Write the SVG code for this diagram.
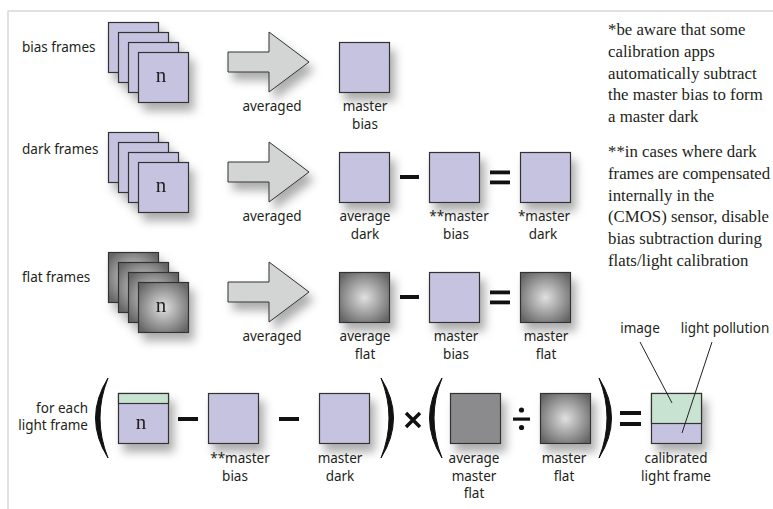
<svg xmlns="http://www.w3.org/2000/svg" width="773" height="509" viewBox="0 0 773 509">
<defs>
<filter id="sh" x="-30%" y="-30%" width="180%" height="180%"><feDropShadow dx="5" dy="8" stdDeviation="5" flood-color="#000" flood-opacity="0.32"/></filter>
<radialGradient id="fl" cx="0.5" cy="0.5" r="0.62"><stop offset="0" stop-color="#e0e0e0"/><stop offset="1" stop-color="#666"/></radialGradient>
</defs>
<style>
.lbl{font-family:"Noto Sans","Liberation Sans",sans-serif;font-size:13.5px;fill:#231f20}
.c{text-anchor:middle}
.r{text-anchor:end}
.note{font-family:"Liberation Serif",serif;font-size:16.8px;fill:#231f20}
.n{font-family:"Liberation Serif",serif;font-size:21px;fill:#231f20;text-anchor:middle}
.p{fill:#c6c3e1;stroke:#333;stroke-width:1.2}
.g{fill:#c9e3d2;stroke:#333;stroke-width:1.2}
.f{fill:url(#fl);stroke:#333;stroke-width:1.2}
.gr{fill:#8b8b8d;stroke:#333;stroke-width:1.2}
.arr{fill:#d3d5d5;stroke:#333;stroke-width:1}
.op{fill:#111}
.sh{filter:url(#sh)}
.par{fill:#111;stroke:#111;stroke-width:1;stroke-linejoin:round}
.ln{stroke:#222;stroke-width:1;fill:none}
</style>
<rect width="773" height="509" fill="#fff"/>
<path d="M8,509 V11 H773" fill="none" stroke="#d8d8d8" stroke-width="1.5"/>

<!-- row 1 -->
<g id="bias-frames">
<text class="lbl" x="22" y="52">bias frames</text>
<g class="sh">
<rect class="p" x="108.5" y="22.5" width="50" height="50"/>
<rect class="p" x="118.5" y="32.5" width="50" height="50"/>
<rect class="p" x="128.5" y="42.5" width="50" height="50"/>
<rect class="p" x="138.5" y="52.5" width="50" height="50"/>
<text class="n" x="161" y="82">n</text>
</g>
</g>
<g id="avg1">
<polygon class="arr sh" points="228,52 269,52 269,32 309,62 269,92 269,72 228,72"/>
<text class="lbl c" x="272" y="111">averaged</text>
</g>
<g id="master-bias-1">
<rect class="p sh" x="339.5" y="42.5" width="50" height="50"/>
<text class="lbl c" x="365" y="111">master</text>
<text class="lbl c" x="365" y="129">bias</text>
</g>

<!-- row 2 -->
<g id="dark-frames">
<text class="lbl" x="22" y="154">dark frames</text>
<g class="sh">
<rect class="p" x="108.5" y="132.5" width="50" height="50"/>
<rect class="p" x="118.5" y="142.5" width="50" height="50"/>
<rect class="p" x="128.5" y="152.5" width="50" height="50"/>
<rect class="p" x="138.5" y="162.5" width="50" height="50"/>
<text class="n" x="161" y="192">n</text>
</g>
</g>
<g id="avg2">
<polygon class="arr sh" points="228,162 269,162 269,142 309,172 269,202 269,182 228,182"/>
<text class="lbl c" x="272" y="221">averaged</text>
</g>
<g id="average-dark">
<rect class="p sh" x="339.5" y="152.5" width="50" height="50"/>
<text class="lbl c" x="365" y="221">average</text>
<text class="lbl c" x="365" y="239">dark</text>
</g>
<rect class="op" x="400" y="175" width="19" height="4"/>
<g id="master-bias-2">
<rect class="p sh" x="429.5" y="152.5" width="50" height="50"/>
<text class="lbl c" x="459" y="221">**master</text>
<text class="lbl c" x="456" y="239">bias</text>
</g>
<rect class="op" x="490" y="170.5" width="20" height="3.8"/>
<rect class="op" x="490" y="180.5" width="20" height="3.8"/>
<g id="master-dark">
<rect class="p sh" x="520.5" y="152.5" width="50" height="50"/>
<text class="lbl c" x="544" y="221">*master</text>
<text class="lbl c" x="543" y="239">dark</text>
</g>

<!-- row 3 -->
<g id="flat-frames">
<text class="lbl" x="22" y="282">flat frames</text>
<g class="sh">
<rect class="f" x="108.5" y="252.5" width="50" height="50"/>
<rect class="f" x="118.5" y="262.5" width="50" height="50"/>
<rect class="f" x="128.5" y="272.5" width="50" height="50"/>
<rect class="f" x="138.5" y="282.5" width="50" height="50"/>
<text class="n" x="161" y="312">n</text>
</g>
</g>
<g id="avg3">
<polygon class="arr sh" points="228,282 269,282 269,262 309,292 269,322 269,302 228,302"/>
<text class="lbl c" x="272" y="341">averaged</text>
</g>
<g id="average-flat">
<rect class="f sh" x="339.5" y="272.5" width="50" height="50"/>
<text class="lbl c" x="365" y="341">average</text>
<text class="lbl c" x="365" y="359">flat</text>
</g>
<rect class="op" x="400" y="295" width="19" height="4"/>
<g id="master-bias-3">
<rect class="p sh" x="429.5" y="272.5" width="50" height="50"/>
<text class="lbl c" x="456" y="341">master</text>
<text class="lbl c" x="456" y="359">bias</text>
</g>
<rect class="op" x="490" y="290.5" width="20" height="3.8"/>
<rect class="op" x="490" y="300.5" width="20" height="3.8"/>
<g id="master-flat">
<rect class="f sh" x="520.5" y="272.5" width="50" height="50"/>
<text class="lbl c" x="546" y="341">master</text>
<text class="lbl c" x="546" y="359">flat</text>
</g>

<!-- row 4 -->
<text class="lbl r" x="88" y="413">for each</text>
<text class="lbl r" x="88" y="430">light frame</text>
<path class="par" d="M108,378 Q83,418 108,458 Q92,418 108,378 Z"/>
<g id="light-frame">
<g class="sh">
<rect class="p" x="118.5" y="393.5" width="50" height="50"/>
<rect class="g" x="118.5" y="393.5" width="50" height="10"/>
<text class="n" x="141" y="429">n</text>
</g>
</g>
<rect class="op" x="178" y="417" width="20" height="4"/>
<g id="master-bias-4">
<rect class="p sh" x="208.5" y="393.5" width="50" height="50"/>
<text class="lbl c" x="240" y="463">**master</text>
<text class="lbl c" x="235" y="481">bias</text>
</g>
<rect class="op" x="279" y="417" width="20" height="4"/>
<g id="master-dark-4">
<rect class="p sh" x="319.5" y="393.5" width="50" height="50"/>
<text class="lbl c" x="340" y="463">master</text>
<text class="lbl c" x="340" y="481">dark</text>
</g>
<path class="par" d="M381,378 Q406,418 381,458 Q397,418 381,378 Z"/>
<path d="M406,413 L420,427 M420,413 L406,427" stroke="#111" stroke-width="3.5" fill="none"/>
<path class="par" d="M442,378 Q417,418 442,458 Q426,418 442,378 Z"/>
<g id="average-master-flat">
<rect class="gr sh" x="450.5" y="393.5" width="50" height="50"/>
<text class="lbl c" x="474" y="463">average</text>
<text class="lbl c" x="474" y="481">master</text>
<text class="lbl c" x="474" y="498">flat</text>
</g>
<g class="op">
<circle cx="521.5" cy="410" r="2.6"/>
<rect x="513" y="417.5" width="17" height="3.2"/>
<circle cx="521.5" cy="427.5" r="2.6"/>
</g>
<g id="master-flat-4">
<rect class="f sh" x="540.5" y="393.5" width="50" height="50"/>
<text class="lbl c" x="564" y="463">master</text>
<text class="lbl c" x="564" y="481">flat</text>
</g>
<path class="par" d="M599,378 Q624,418 599,458 Q615,418 599,378 Z"/>
<rect class="op" x="620" y="411" width="21" height="4"/>
<rect class="op" x="620" y="422" width="21" height="4"/>
<g id="calibrated">
<g class="sh">
<rect class="p" x="651.5" y="393.5" width="50" height="50"/>
<rect class="g" x="651.5" y="393.5" width="50" height="30"/>
</g>
<text class="lbl c" x="676" y="463">calibrated</text>
<text class="lbl c" x="676" y="481">light frame</text>
</g>
<g id="image-label"><text class="lbl c" x="640" y="333">image</text></g>
<g id="pollution-label"><text class="lbl c" x="725" y="333">light pollution</text></g>
<g id="connectors">
<line class="ln" x1="640" y1="342" x2="672" y2="403"/>
<line class="ln" x1="712" y1="342" x2="682" y2="433"/>
</g>

<!-- notes -->
<g id="notes" class="note">
<text x="608" y="35">*be aware that some</text>
<text x="608" y="56.8">calibration apps</text>
<text x="608" y="78.6">automatically subtract</text>
<text x="608" y="100.4">the master bias to form</text>
<text x="608" y="122.2">a master dark</text>
<text x="608" y="157">**in cases where dark</text>
<text x="608" y="178.8">frames are compensated</text>
<text x="608" y="200.6">internally in the</text>
<text x="608" y="222.4">(CMOS) sensor, disable</text>
<text x="608" y="244.2">bias subtraction during</text>
<text x="608" y="266">flats/light calibration</text>
</g>
</svg>
